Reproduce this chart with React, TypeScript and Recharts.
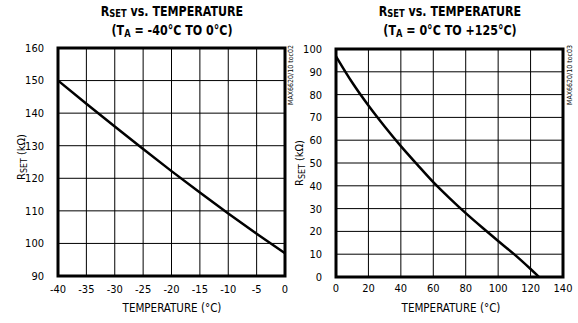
import { LineChart, Line, XAxis, YAxis, CartesianGrid, ReferenceArea } from "recharts";

// -40°C to 0°C panel
const coldTemps = [-40, -35, -30, -25, -20, -15, -10, -5, 0];
const coldRset = [150, 142.9, 135.9, 129, 122.2, 115.6, 109.2, 103, 97];
const coldXTicks = [-40, -35, -30, -25, -20, -15, -10, -5, 0];
const coldYTicks = [90, 100, 110, 120, 130, 140, 150, 160];

// 0°C to +125°C panel
const hotTemps = [0, 10, 20, 30, 40, 50, 60, 70, 80, 90, 100, 110, 120, 125];
const hotRset = [96.8, 85.3, 75.2, 66, 57.4, 49.4, 41.6, 34.6, 28, 21.8, 15.8, 9.9, 3.5, 0.2];
const hotXTicks = [0, 20, 40, 60, 80, 100, 120, 140];
const hotYTicks = [0, 10, 20, 30, 40, 50, 60, 70, 80, 90, 100];

const FONT = "'DejaVu Sans Condensed', 'Liberation Sans Narrow', 'Arial Narrow', sans-serif";

const coldData = coldTemps.map((t, i) => ({ t, r: coldRset[i] }));
const hotData = hotTemps.map((t, i) => ({ t, r: hotRset[i] }));

const tickStyle = { fontSize: 11, fill: "#000", fontFamily: FONT };

function Title({ x, range }: { x: number; range: React.ReactNode }) {
  return (
    <div
      style={{
        position: "absolute",
        left: x - 120,
        top: 3,
        width: 240,
        textAlign: "center",
        fontFamily: FONT,
        fontWeight: "bold",
        fontSize: 14.5,
        lineHeight: "17px",
        color: "#000",
        transform: "scaleX(0.85)",
      }}
    >
      <div>
        R<span style={{ fontSize: "0.75em", verticalAlign: "-0.12em" }}>SET</span> vs. TEMPERATURE
      </div>
      <div>{range}</div>
    </div>
  );
}

function YLabel({ x, y }: { x: number; y: number }) {
  return (
    <div
      style={{
        position: "absolute",
        left: x - 40,
        top: y - 8,
        width: 80,
        height: 16,
        textAlign: "center",
        transform: "rotate(-90deg)",
        fontFamily: FONT,
        fontSize: 11,
        lineHeight: "16px",
        color: "#000",
        whiteSpace: "nowrap",
      }}
    >
      R<span style={{ fontSize: "0.8em", verticalAlign: "-0.25em" }}>SET</span> (kΩ)
    </div>
  );
}

function XLabel({ x }: { x: number }) {
  return (
    <div
      style={{
        position: "absolute",
        left: x - 60,
        top: 300,
        width: 120,
        textAlign: "center",
        fontFamily: FONT,
        fontSize: 11.5,
        lineHeight: "16px",
        color: "#000",
      }}
    >
      TEMPERATURE (°C)
    </div>
  );
}

function Tag({ x, text }: { x: number; text: string }) {
  return (
    <div
      style={{
        position: "absolute",
        left: x - 30,
        top: 71,
        width: 60,
        height: 8,
        textAlign: "center",
        transform: "rotate(-90deg)",
        fontFamily: FONT,
        fontSize: 7,
        lineHeight: "8px",
        color: "#000",
        whiteSpace: "nowrap",
      }}
    >
      {text}
    </div>
  );
}

export default function App() {
  return (
    <div style={{ position: "absolute", left: 0, top: 0, width: 578, height: 323, background: "#fff" }}>
      <div style={{ position: "absolute", left: 0, top: 0 }}>
        <LineChart width={290} height={323} data={coldData} margin={{ top: 48, right: 5, bottom: 0, left: 0 }}>
          <CartesianGrid stroke="#000" strokeWidth={1} />
          <XAxis
            dataKey="t"
            type="number"
            domain={[-40, 0]}
            ticks={coldXTicks}
            height={47}
            axisLine={false}
            tickLine={false}
            tickSize={0}
            tickMargin={9}
            tick={tickStyle}
            interval={0}
          />
          <YAxis
            type="number"
            domain={[90, 160]}
            ticks={coldYTicks}
            width={58}
            axisLine={false}
            tickLine={false}
            tickSize={0}
            tickMargin={14}
            tick={tickStyle}
            interval={0}
          />
          <ReferenceArea x1={-40} x2={0} y1={90} y2={160} fill="none" stroke="#000" strokeWidth={3} />
          <Line dataKey="r" stroke="#000" strokeWidth={2.5} dot={false} type="monotone" isAnimationActive={false} />
        </LineChart>
      </div>
      <div style={{ position: "absolute", left: 290, top: 0 }}>
        <LineChart width={288} height={323} data={hotData} margin={{ top: 49, right: 15, bottom: 0, left: 0 }}>
          <CartesianGrid stroke="#000" strokeWidth={1} />
          <XAxis
            dataKey="t"
            type="number"
            domain={[0, 140]}
            ticks={hotXTicks}
            height={46}
            axisLine={false}
            tickLine={false}
            tickSize={0}
            tickMargin={7}
            tick={tickStyle}
            interval={0}
          />
          <YAxis
            type="number"
            domain={[0, 100]}
            ticks={hotYTicks}
            width={46}
            axisLine={false}
            tickLine={false}
            tickSize={0}
            tickMargin={14}
            tick={tickStyle}
            interval={0}
          />
          <ReferenceArea x1={0} x2={140} y1={0} y2={100} fill="none" stroke="#000" strokeWidth={3} />
          <Line dataKey="r" stroke="#000" strokeWidth={2.5} dot={false} type="monotone" isAnimationActive={false} />
        </LineChart>
      </div>
      <Title
        x={172}
        range={
          <>
            (T<span style={{ fontSize: "0.75em", verticalAlign: "-0.2em" }}>A</span> = -40°C TO 0°C)
          </>
        }
      />
      <Title
        x={450}
        range={
          <>
            (T<span style={{ fontSize: "0.75em", verticalAlign: "-0.2em" }}>A</span> = 0°C TO +125°C)
          </>
        }
      />
      <YLabel x={22} y={157} />
      <YLabel x={300} y={163} />
      <XLabel x={172} />
      <XLabel x={451} />
      <Tag x={291} text="MAX6620/10 toc02" />
      <Tag x={570} text="MAX6620/10 toc03" />
    </div>
  );
}
